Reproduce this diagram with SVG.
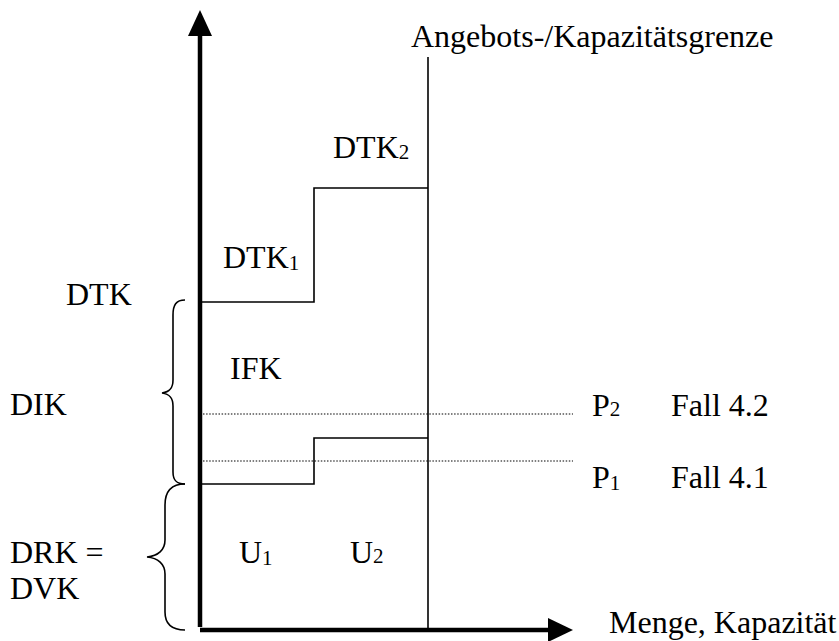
<svg xmlns="http://www.w3.org/2000/svg" width="839" height="641" viewBox="0 0 839 641">
<style>
text{font-size:32px;fill:#000}
.sub{font-size:21px}
.ln{fill:none;stroke:#000;stroke-width:1.6}
.ax{fill:none;stroke:#000;stroke-width:4.5}
.dot{fill:none;stroke:#000;stroke-width:1.2;stroke-dasharray:1.5 1.6}
</style>
<rect width="839" height="641" fill="#fff"/>
<g id="connectors">
<g id="y-axis"><line class="ax" x1="200" y1="32" x2="200" y2="627"/><polygon points="200,10 188,36 212,36"/></g>
<g id="x-axis"><line class="ax" x1="200" y1="630" x2="550" y2="630"/><polygon points="573,630 548,618 548,642"/></g>
<line id="capacity-limit" class="ln" x1="428" y1="57" x2="428" y2="628"/>
<polyline id="dtk-step" class="ln" points="201,302 314,302 314,188 428,188"/>
<polyline id="drk-step" class="ln" points="201,484 314,484 314,438 428,438"/>
<line id="p2-line" class="dot" x1="203" y1="414" x2="573" y2="414"/>
<line id="p1-line" class="dot" x1="203" y1="461" x2="573" y2="461"/>
<path id="brace-dik" class="ln" d="M185,300 C176,300 173,305 173,315 L173,380 C173,388 170,392 162,393 C170,394 173,398 173,406 L173,472 C173,480 176,484 185,484"/>
<path id="brace-drk" class="ln" d="M185,484 C171,484 165,492 165,505 L165,540 C165,550 158,556 147,557 C158,558 165,564 165,574 L165,612 C165,624 171,630 185,630"/>
</g>
<g id="labels" font-family="Liberation Serif, Times New Roman, serif">
<text x="411" y="47">Angebots-/Kapazitätsgrenze</text>
<text x="333" y="158">DTK<tspan class="sub" dy="1">2</tspan></text>
<text x="223" y="268">DTK<tspan class="sub" dy="2">1</tspan></text>
<text x="66" y="305">DTK</text>
<text x="230" y="379">IFK</text>
<text x="10" y="415">DIK</text>
<text x="592" y="416">P<tspan class="sub" dy="0">2</tspan></text>
<text x="671" y="416">Fall 4.2</text>
<text x="592" y="488">P<tspan class="sub" dy="2">1</tspan></text>
<text x="671" y="488">Fall 4.1</text>
<text x="239" y="563">U<tspan class="sub" dy="2">1</tspan></text>
<text x="350" y="563">U<tspan class="sub" dy="0">2</tspan></text>
<text x="10" y="563">DRK =</text>
<text x="10" y="599">DVK</text>
<text x="609" y="633">Menge, Kapazität</text>
</g>
</svg>
